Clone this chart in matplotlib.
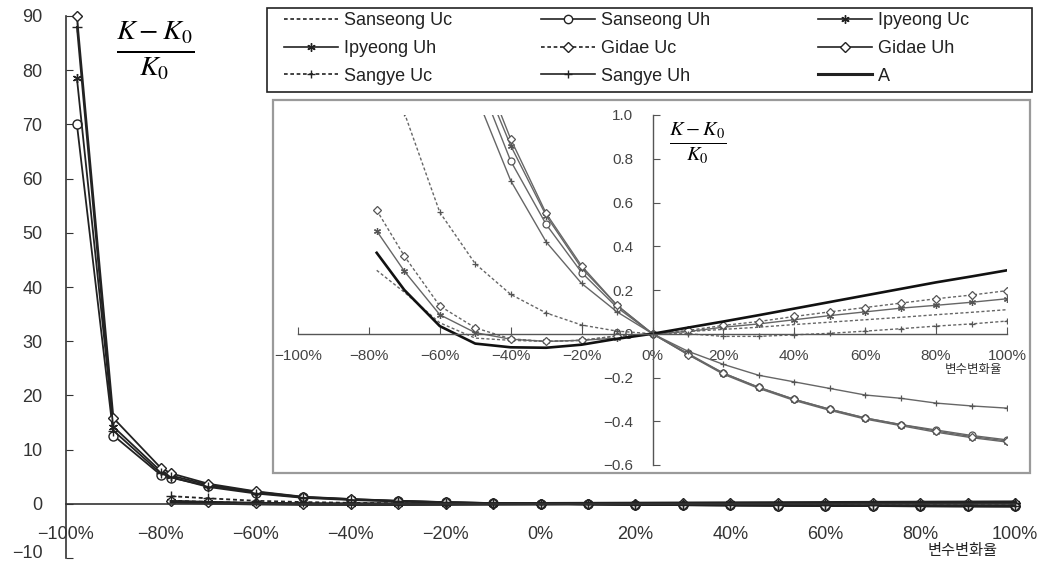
import matplotlib
matplotlib.use('Agg')
import matplotlib.pyplot as plt
from matplotlib.patches import Rectangle
from matplotlib.lines import Line2D
import matplotlib.transforms as mtransforms
import numpy as np

plt.rcParams['font.family'] = ['Liberation Sans', 'Noto Sans CJK KR', 'DejaVu Sans']
plt.rcParams['mathtext.fontset'] = 'stix'

# ---------------- data ----------------
x_uh = [-97.7, -90, -80, -77.8, -70, -60, -50, -40, -30, -20, -10, 0,
        10, 20, 30, 40, 50, 60, 70, 80, 90, 100]
x_uc = [-77.8, -70, -60, -50, -40, -30, -20, -10, 0,
        10, 20, 30, 40, 50, 60, 70, 80, 90, 100]

sanseong_uh = [70, 12.6, 5.3, 4.8, 3.3, 2.05, 1.2, 0.79, 0.50, 0.28, 0.12, 0,
               -0.09, -0.18, -0.245, -0.30, -0.345, -0.385, -0.415, -0.44, -0.465, -0.485]
ipyeong_uc = [78.5, 14.2, 6.0, 5.2, 3.5, 2.2, 1.25, 0.86, 0.54, 0.30, 0.13, 0,
              -0.095, -0.185, -0.25, -0.305, -0.35, -0.39, -0.42, -0.45, -0.475, -0.495]
gidae_uh = [90, 15.8, 6.6, 5.6, 3.7, 2.3, 1.3, 0.89, 0.55, 0.31, 0.13, 0,
            -0.095, -0.18, -0.245, -0.30, -0.345, -0.385, -0.415, -0.445, -0.47, -0.49]
sangye_uh = [88, 13.5, 5.6, 4.9, 3.1, 1.9, 1.1, 0.70, 0.42, 0.23, 0.10, 0,
             -0.08, -0.14, -0.19, -0.22, -0.25, -0.28, -0.295, -0.317, -0.33, -0.34]

sanseong_uc = [0.29, 0.19, 0.05, -0.02, -0.03, -0.035, -0.03, -0.01, 0,
               0.01, 0.02, 0.03, 0.042, 0.053, 0.064, 0.075, 0.087, 0.098, 0.11]
ipyeong_uh = [0.47, 0.286, 0.087, 0.005, -0.025, -0.035, -0.03, -0.02, 0,
              0.01, 0.03, 0.045, 0.064, 0.083, 0.10, 0.117, 0.13, 0.144, 0.16]
gidae_uc = [0.565, 0.355, 0.127, 0.027, -0.023, -0.035, -0.03, -0.01, 0,
            0.015, 0.038, 0.056, 0.079, 0.10, 0.12, 0.14, 0.16, 0.177, 0.197]
sangye_uc = [1.4, 1.01, 0.555, 0.32, 0.18, 0.095, 0.04, 0.012, 0,
             0.0, -0.012, -0.012, -0.005, 0.002, 0.012, 0.023, 0.035, 0.045, 0.058]
a_vals = [0.37, 0.2, 0.035, -0.045, -0.062, -0.064, -0.05, -0.023, 0,
          0.028, 0.056, 0.085, 0.115, 0.145, 0.175, 0.205, 0.235, 0.262, 0.29]

x_ticks = [-100, -80, -60, -40, -20, 0, 20, 40, 60, 80, 100]
x_tick_labels = [f"{v}%".replace('-', '\u2212') for v in x_ticks]
main_y_ticks = list(range(-10, 91, 10))
inset_y_ticks = [-0.6, -0.4, -0.2, 0.0, 0.2, 0.4, 0.6, 0.8, 1.0]
axis_name = "변수변화율"
labels = ["Sanseong Uc", "Sanseong Uh", "Ipyeong Uc", "Ipyeong Uh", "Gidae Uc",
          "Gidae Uh", "Sangye Uc", "Sangye Uh", "A"]

dot = (0, (2.2, 1.6))
styles = {
    "Sanseong Uc": dict(ls=dot, marker=None),
    "Sanseong Uh": dict(ls='-', marker='o'),
    "Ipyeong Uc": dict(ls='-', marker=(6, 2, 0)),
    "Ipyeong Uh": dict(ls='-', marker=(6, 2, 0)),
    "Gidae Uc": dict(ls=dot, marker='D'),
    "Gidae Uh": dict(ls='-', marker='D'),
    "Sangye Uc": dict(ls=dot, marker='+'),
    "Sangye Uh": dict(ls='-', marker='+'),
    "A": dict(ls='-', marker=None),
}
series = {
    "Sanseong Uc": (x_uc, sanseong_uc),
    "Sanseong Uh": (x_uh, sanseong_uh),
    "Ipyeong Uc": (x_uh, ipyeong_uc),
    "Ipyeong Uh": (x_uc, ipyeong_uh),
    "Gidae Uc": (x_uc, gidae_uc),
    "Gidae Uh": (x_uh, gidae_uh),
    "Sangye Uc": (x_uc, sangye_uc),
    "Sangye Uh": (x_uh, sangye_uh),
    "A": (x_uc, a_vals),
}

W, H = 1047, 562
fig = plt.figure(figsize=(W / 100, H / 100), dpi=100)

def fx(px):
    return px / W

def fy(py):
    return 1 - py / H

# ---------------- main axes ----------------
ax = fig.add_axes([fx(66), fy(558), fx(1015) - fx(66), fy(16) - fy(558)])
ax.set_zorder(0)
ax.set_xlim(-100, 100)
ax.set_ylim(-10, 90)
for s in ['top', 'right']:
    ax.spines[s].set_visible(False)
ax.spines['bottom'].set_position(('data', 0))
for s in ['left', 'bottom']:
    ax.spines[s].set_color('#333333')
    ax.spines[s].set_linewidth(1.2)
ax.set_xticks(x_ticks)
ax.set_xticklabels(x_tick_labels)
ax.set_yticks(main_y_ticks)
ax.tick_params(axis='x', length=0, pad=16, labelsize=13, labelcolor='#333333')
ax.tick_params(axis='y', direction='in', length=5, pad=17, labelsize=13,
               labelcolor='#333333', color='#333333')
# lift the lowest label a little so that it stays inside the picture
ylabs = ax.get_yticklabels()
ylabs[0].set_transform(ylabs[0].get_transform() +
                       mtransforms.ScaledTranslation(0, 5 / 72, fig.dpi_scale_trans))

for name in labels:
    xs, ys = series[name]
    st = styles[name]
    lw = 2.6 if name == "A" else 1.3
    ax.plot(xs, ys, color='#222222', lw=lw, ls=st['ls'], marker=st['marker'],
            ms=6.5 if st['marker'] != 'D' else 5.5, mfc='white', mec='#222222',
            mew=1.0, clip_on=False, label=name)

fig.text(fx(155), fy(50), r'$\frac{K-K_0}{K_0}$', fontsize=29, ha='center', va='center')
fig.text(fx(963), fy(550), axis_name, fontsize=11, ha='center', va='center',
         family=['Noto Sans CJK KR', 'DejaVu Sans'], color='#222222')

# ---------------- inset ----------------
frame = Rectangle((fx(273), fy(473)), fx(1030) - fx(273), fy(100) - fy(473),
                  transform=fig.transFigure, facecolor='white', edgecolor='#9a9a9a',
                  lw=1.6, zorder=1)
fig.add_artist(frame)

axi = fig.add_axes([fx(298), fy(465), fx(1007) - fx(298), fy(115) - fy(465)])
axi.set_zorder(2)
axi.patch.set_alpha(0)
axi.set_xlim(-100, 100)
axi.set_ylim(-0.6, 1.0)
for s in ['top', 'right']:
    axi.spines[s].set_visible(False)
axi.spines['left'].set_position(('data', 0))
axi.spines['bottom'].set_position(('data', 0))
for s in ['left', 'bottom']:
    axi.spines[s].set_color('#555555')
    axi.spines[s].set_linewidth(1.0)
axi.set_xticks(x_ticks)
axi.set_xticklabels(x_tick_labels)
axi.set_yticks(inset_y_ticks)
axi.set_yticklabels([f"{v:.1f}".replace('-', '\u2212') for v in inset_y_ticks])
axi.tick_params(axis='x', direction='in', length=5, pad=11, labelsize=11,
                labelcolor='#444444', color='#555555')
axi.tick_params(axis='y', direction='in', length=5, pad=14, labelsize=11,
                labelcolor='#444444', color='#555555')

for name in labels:
    xs, ys = series[name]
    st = styles[name]
    if name == "A":
        axi.plot(xs, ys, color='#111111', lw=1.9, ls='-')
    else:
        axi.plot(xs, ys, color='#666666', lw=1.0, ls=st['ls'], marker=st['marker'],
                 ms=5 if st['marker'] != 'D' else 4.2, mfc='white', mec='#555555', mew=0.9)

fig.text(fx(698), fy(143), r'$\frac{K-K_0}{K_0}$', fontsize=21, ha='center', va='center')
fig.text(fx(974), fy(370), axis_name, fontsize=9, ha='center', va='center',
         family=['Noto Sans CJK KR', 'DejaVu Sans'], color='#333333')

# ---------------- legend ----------------
lframe = Rectangle((fx(267), fy(92)), fx(1032) - fx(267), fy(8) - fy(92),
                   transform=fig.transFigure, facecolor='white', edgecolor='#222222',
                   lw=1.2, zorder=1)
fig.add_artist(lframe)
legend_columns = [["Sanseong Uc", "Ipyeong Uh", "Sangye Uc"],
                  ["Sanseong Uh", "Gidae Uc", "Sangye Uh"],
                  ["Ipyeong Uc", "Gidae Uh", "A"]]
column_x = [284, 541, 818]
for names, cx in zip(legend_columns, column_x):
    handles = []
    for name in names:
        st = styles[name]
        handles.append(Line2D([], [], color='#222222', lw=2.2 if name == "A" else 1.2,
                              ls=st['ls'], marker=st['marker'],
                              ms=6 if st['marker'] != 'D' else 5, mfc='white',
                              mec='#222222', mew=1.0))
    leg = fig.legend(handles, names, ncol=1, loc='upper left',
                     bbox_to_anchor=(fx(cx), fy(12)), bbox_transform=fig.transFigure,
                     frameon=False, borderpad=0, borderaxespad=0, fontsize=13,
                     handlelength=3.0, handletextpad=0.3, labelspacing=0.6)
    leg.set_zorder(3)
    for t in leg.get_texts():
        t.set_color('#222222')

fig.savefig('out.png', dpi=100)
